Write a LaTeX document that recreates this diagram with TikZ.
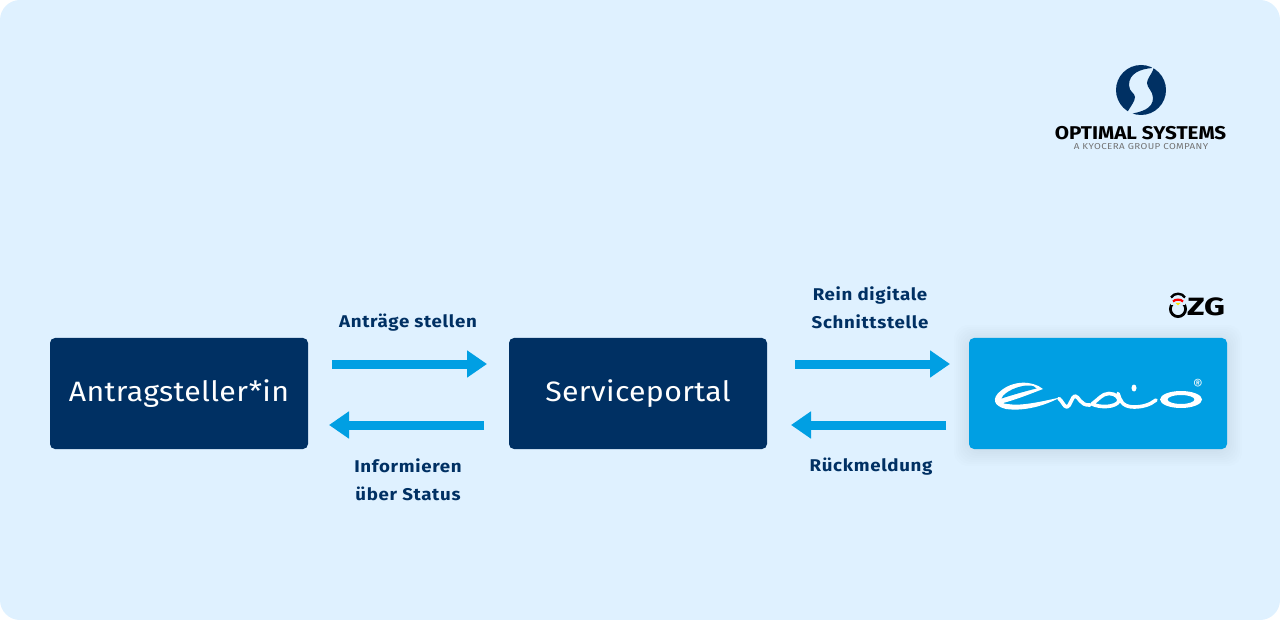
\documentclass[tikz,border=0pt]{standalone}
\usepackage{fontspec}
\setmainfont{Fira Sans}
\newfontfamily\labelfont[FakeStretch=1.1,LetterSpace=4]{Fira Sans}
\newfontfamily\boxfont[FakeStretch=1.08,LetterSpace=1.2]{Fira Sans}
\newfontfamily\osfont[FakeStretch=1.115]{Fira Sans}
\newfontfamily\kyfont[FakeStretch=1.14,LetterSpace=4.6]{Fira Sans}
\newfontfamily\ozgfont[FakeStretch=1.3]{Fira Sans}
\definecolor{bgblue}{HTML}{DFF1FF}
\definecolor{navy}{HTML}{003063}
\definecolor{sky}{HTML}{009FE3}
\tikzset{
  box/.style={rounded corners=5pt,minimum width=258pt,minimum height=111pt,inner sep=0pt,outer sep=0pt,anchor=north west},
  darkbox/.style={box,fill=navy,text=white,font=\boxfont\fontsize{28}{32}\selectfont},
  label/.style={text=navy,font=\labelfont\fontsize{17}{28}\selectfont\bfseries,align=center,inner sep=0pt},
  flow/.style={draw=sky,line width=9pt,-{Triangle[length=20pt,width=26pt]},shorten >=0pt},
  shadowlayer/.style={fill=navy,opacity=0.007,rounded corners=14pt},
  logostroke/.style={draw=white,line width=3.6pt,line cap=round,line join=round},
}
\usetikzlibrary{arrows.meta}
\begin{document}
\begin{tikzpicture}[x=1pt,y=-1pt]
\useasboundingbox (0,0) rectangle (1280,620);
\fill[bgblue] (0,0) [rounded corners=20pt] rectangle (1280,620);
% nodes
\node[darkbox] (ant) at (50,338) {\makebox[258pt]{Antragsteller*in}};
\node[darkbox] (sp) at (509,338) {\makebox[258pt]{Serviceportal}};
\foreach \g in {1,3,5,7,9,11,13,15}
  \fill[shadowlayer] (969-\g,338-\g+2) rectangle (1227+\g,449+\g+2);
\node[box,fill=sky] (en) at (969,338) {};
% connector ends
\coordinate (a1) at ([shift={(24,26)}]ant.north east);
\coordinate (b1) at ([shift={(-22,26)}]sp.north west);
\coordinate (a2) at ([shift={(-25,87)}]sp.north west);
\coordinate (b2) at ([shift={(21,87)}]ant.north east);
\coordinate (a3) at ([shift={(28,26)}]sp.north east);
\coordinate (b3) at ([shift={(-19,26)}]en.north west);
\coordinate (a4) at ([shift={(-23,87)}]en.north west);
\coordinate (b4) at ([shift={(24,87)}]sp.north east);
\draw[flow] (a1) -- (b1);
\draw[flow] (a2) -- (b2);
\draw[flow] (a3) -- (b3);
\draw[flow] (a4) -- (b4);
% labels
\node[label] (l1) at (408,323) {Anträge stellen};
\node[label] (l2) at (408,480) {Informieren\\über Status};
\node[label] (l3) at (870,308) {Rein digitale\\Schnittstelle};
\node[label] (l4) at (871,466.5) {Rückmeldung};
% enaio logo
\fill[white] (1043,389) .. controls (1032,380) and (1012,380.5) .. (1000,391.5)
   .. controls (992,398) and (993,406) .. (1006,409)
   .. controls (1024,411.5) and (1044,406) .. (1060,397.5)
   .. controls (1044,401) and (1025,405.5) .. (1012,404.5)
   .. controls (1008,404) and (1004,404) .. (1003,403)
   .. controls (1015,400) and (1030,394) .. (1043,389) -- cycle;
\fill[sky] (1001.5,398.5) .. controls (1004,391.5) and (1020,385) .. (1029,385.5)
   .. controls (1033,385.5) and (1035.5,387) .. (1036.5,388.5)
   .. controls (1028,390.5) and (1012,395) .. (1001.5,398.5) -- cycle;
\draw[logostroke] (1059,398.5)
   .. controls (1063,402) and (1064,407) .. (1067,407)
   .. controls (1070,407) and (1072,396) .. (1075,396)
   .. controls (1079,396) and (1080,406) .. (1090,405);
\draw[logostroke] (1092,404) .. controls (1098,400) and (1102,393.5) .. (1109,393.5)
   .. controls (1116,393.5) and (1119,398) .. (1119,401)
   .. controls (1116,407.5) and (1100,408) .. (1092,404);
\draw[logostroke] (1118,393.5) .. controls (1120,400) and (1122,407) .. (1134,407)
   .. controls (1142,407) and (1150,405) .. (1156,400);
\fill[white] (1134,388) ellipse[x radius=2.5pt,y radius=3.5pt];
\fill[white,even odd rule] (1181,399.5) ellipse[x radius=21pt,y radius=8.5pt]
   (1181,399.5) ellipse[x radius=13.5pt,y radius=4.5pt];
\node[text=white,font=\fontsize{15}{16}\selectfont,inner sep=0pt] (reg) at (1198,384.5) {®};
% OZG mark
\draw[black,line width=2.8pt] (1178,309) circle[radius=7.6pt];
\draw[black,line width=2.4pt] (1171,297.5) .. controls (1174,292.5) and (1182,292.5) .. (1185,297.5);
\fill[bgblue] (1171,299.5) rectangle (1185,305);
\draw[red,line width=2.2pt] (1173,301.5) .. controls (1175,299) and (1181,299) .. (1183,301.5);
\fill[yellow!90!orange] (1175.5,302.8) -- (1180.5,302.8) -- (1178,305.5) -- cycle;
\node[text=black,font=\ozgfont\fontsize{25}{26}\selectfont\bfseries,inner sep=0pt,anchor=base west] (ozg) at (1187,316) {ZG};
% Optimal Systems logo
\begin{scope}[shift={(1141,90)}]
\clip (0,0) circle[radius=25pt];
\fill[navy] (11,-22) .. controls (0,-21) and (-12,-17) .. (-12,-5)
   .. controls (-12,2) and (-6,3) .. (-6,7) .. controls (-6,11) and (-10,16) .. (-13,21)
   -- (-14,30) -- (-30,30) -- (-30,-30) -- (11,-30) -- cycle;
\fill[navy] (12,-20) .. controls (10,-15) and (6,-11) .. (6,-7)
   .. controls (6,-2) and (12,1) .. (12,8) .. controls (12,19) and (0,22) .. (-11,24)
   -- (-11,30) -- (30,30) -- (30,-30) -- (14,-30) -- cycle;
\end{scope}
\node[text=black,font=\osfont\fontsize{18.5}{20}\selectfont\bfseries,inner sep=0pt] (os) at (1140.5,133.5) {OPTIMAL SYSTEMS};
\node[text=black!55,font=\kyfont\fontsize{8.6}{10}\selectfont,inner sep=0pt] (ky) at (1141,147) {A KYOCERA GROUP COMPANY};
\end{tikzpicture}
\end{document}
